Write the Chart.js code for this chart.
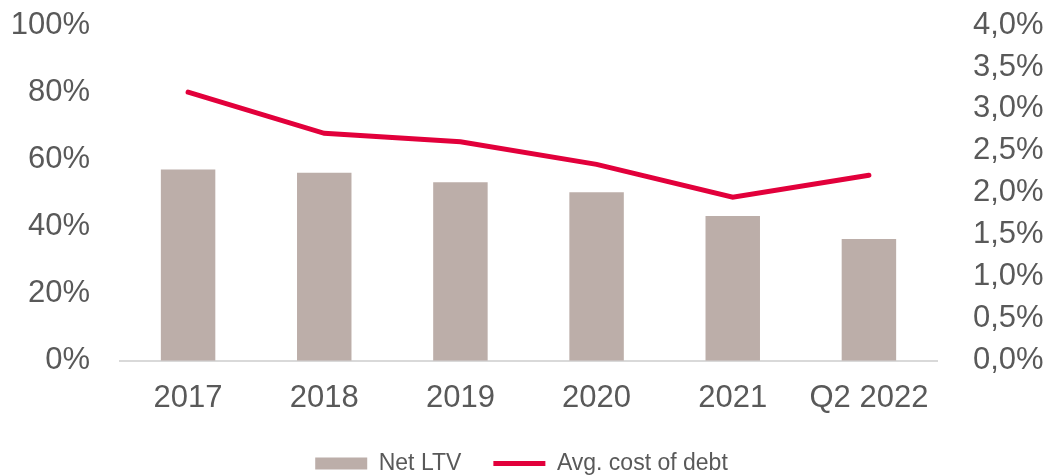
<!DOCTYPE html>
<html lang="en">
<head>
  <meta charset="UTF-8">
  <title>Net LTV and cost of debt</title>
  <script src="https://cdn.jsdelivr.net/npm/chart.js"></script>
  <style>
    html, body { margin: 0; padding: 0; background: #fff; }
    .grafico { width: 1043px; height: 475px; }
  </style>
</head>
<body>
  <div class="grafico">
    <canvas id="myChart" width="1043" height="475"></canvas>
  </div>
<script>
  // data
  const categories = ['2017', '2018', '2019', '2020', '2021', 'Q2 2022'];
  const netLtv = [57.0, 56.0, 53.2, 50.2, 43.1, 36.3];
  const costOfDebt = [3.20, 2.71, 2.61, 2.34, 1.95, 2.21];
  const ltvTicks = [0, 20, 40, 60, 80, 100];
  const costTicks = [0, 0.5, 1, 1.5, 2, 2.5, 3, 3.5, 4];

  const textColor = '#595959';
  const fontFamily = 'Arial, "Liberation Sans", sans-serif';

  // y axes: fixed width, top of plot at 25px
  function fitY(width) {
    return function (scale) {
      scale.width = width;
      scale.paddingTop = 25;
      scale.paddingBottom = 0;
    };
  }

  const dados = {
    labels: categories,
    datasets: [
      {
        type: 'line',
        label: 'Avg. cost of debt',
        data: costOfDebt,
        yAxisID: 'yCost',
        borderColor: '#E2003B',
        backgroundColor: '#E2003B',
        borderWidth: 5,
        pointRadius: 0,
        tension: 0,
        borderCapStyle: 'round',
        order: 0
      },
      {
        type: 'bar',
        label: 'Net LTV',
        data: netLtv,
        yAxisID: 'yLtv',
        backgroundColor: '#BCAEA9',
        categoryPercentage: 1,
        barPercentage: 0.4,
        order: 1
      }
    ]
  };

  const config = {
    data: dados,
    options: {
      responsive: false,
      animation: false,
      layout: { padding: { top: 0, bottom: -10 } },
      plugins: {
        tooltip: { enabled: false },
        legend: {
          position: 'bottom',
          reverse: true,
          labels: {
            color: textColor,
            font: { family: fontFamily, size: 23 },
            usePointStyle: true,
            pointStyleWidth: 52,
            boxWidth: 52,
            boxHeight: 12,
            padding: 32,
            generateLabels(chart) {
              const items = Chart.defaults.plugins.legend.labels.generateLabels(chart);
              items.forEach(function (item) {
                const ds = chart.data.datasets[item.datasetIndex];
                item.pointStyle = ds.type === 'line' ? 'line' : 'rect';
                item.strokeStyle = ds.type === 'line' ? ds.borderColor : ds.backgroundColor;
                item.lineWidth = ds.type === 'line' ? 5 : 0;
              });
              return items;
            }
          }
        }
      },
      scales: {
        x: {
          afterFit(scale) { scale.height = scale.height - 8; },
          grid: { display: false },
          border: { display: true, color: '#D9D9D9', width: 2 },
          ticks: {
            color: textColor,
            font: { family: fontFamily, size: 31 },
            padding: 11
          }
        },
        yLtv: {
          position: 'left',
          min: 0,
          max: 100,
          afterBuildTicks(scale) { scale.ticks = ltvTicks.map(v => ({ value: v })); },
          afterFit: fitY(120),
          grid: { display: false },
          border: { display: false },
          ticks: {
            color: textColor,
            font: { family: fontFamily, size: 31 },
            padding: 22,
            autoSkip: false,
            callback: v => v + '%'
          }
        },
        yCost: {
          position: 'right',
          min: 0,
          max: 4,
          afterBuildTicks(scale) { scale.ticks = costTicks.map(v => ({ value: v })); },
          afterFit: fitY(106),
          grid: { display: false },
          border: { display: false },
          ticks: {
            color: textColor,
            font: { family: fontFamily, size: 31 },
            padding: 28,
            autoSkip: false,
            callback: v => v.toFixed(1).replace('.', ',') + '%'
          }
        }
      }
    }
  };

  new Chart(document.getElementById('myChart'), config);
</script>
</body>
</html>
